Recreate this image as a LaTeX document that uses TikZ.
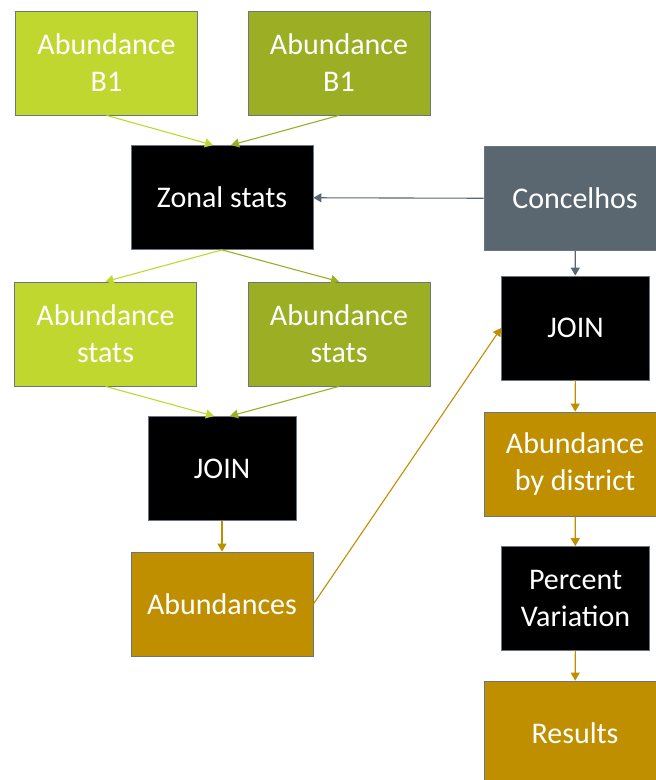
\documentclass[tikz,border=0pt]{standalone}
\usepackage{fontspec}
\setmainfont{Carlito}
\usetikzlibrary{arrows.meta}
\definecolor{abLime}{HTML}{C0D72F}
\definecolor{abOlive}{HTML}{9BAE24}
\definecolor{abGold}{HTML}{BF8F00}
\definecolor{abSlate}{HTML}{5B6770}
\definecolor{abEdge}{HTML}{6A7580}
\begin{document}
\begin{tikzpicture}[x=1pt,y=-1pt,>={Triangle[length=8pt,width=9pt]},
  box/.style={draw=abEdge,line width=0.8pt,text=white,align=center,inner sep=0pt,
    minimum width=182pt,minimum height=104pt,font=\fontsize{30}{37}\selectfont},
  op/.style={box,fill=black,minimum width=148pt},
  link/.style={->,line width=1.1pt}]
\useasboundingbox (0,0) rectangle (656,780);
% left column
\node[box,fill=abLime] (b1l) at (106.5,63) {Abundance\\B1};
\node[box,fill=abOlive] (b1r) at (339,63) {Abundance\\B1};
\node[box,fill=black] (zonal) at (222,197.5) {Zonal stats};
\node[box,fill=abLime] (statl) at (105.5,334) {Abundance\\stats};
\node[box,fill=abOlive] (statr) at (339,334) {Abundance\\stats};
\node[op] (joinl) at (222,468.5) {JOIN};
\node[box,fill=abGold] (abund) at (222,604) {Abundances};
% right column
\node[box,fill=abSlate] (conc) at (575,198.5) {Concelhos};
\node[op] (joinr) at (575.5,328) {JOIN};
\node[box,fill=abGold] (bydist) at (575,464) {Abundance\\by district};
\node[op] (pvar) at (575.5,598.5) {Percent\\Variation};
\node[box,fill=abGold] (res) at (575,733) {Results};

\draw[link,abLime] (b1l.south)--([xshift=-9pt]zonal.north);
\draw[link,abOlive] (b1r.south)--([xshift=9pt]zonal.north);
\draw[link,abLime] (zonal.south)--(statl.north);
\draw[link,abOlive] (zonal.south)--(statr.north);
\draw[link,abLime] (statl.south)--([xshift=-8pt]joinl.north);
\draw[link,abOlive] (statr.south)--([xshift=8pt]joinl.north);
\draw[link,abGold] (joinl)--(abund);
\draw[link,abSlate] (conc)--(zonal);
\draw[link,abSlate] (conc)--(joinr);
\draw[link,abGold] (abund.east)--(joinr.west);
\draw[link,abGold] (joinr)--(bydist);
\draw[link,abGold] (bydist)--(pvar);
\draw[link,abGold] (pvar)--(res);
\end{tikzpicture}
\end{document}
